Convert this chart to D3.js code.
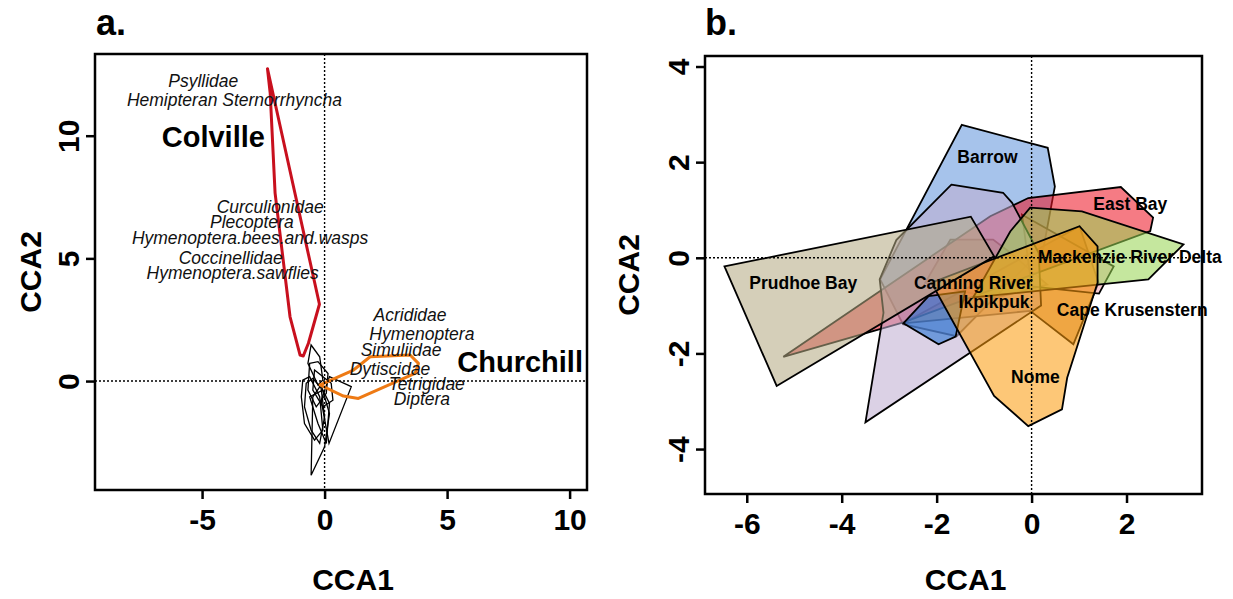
<!DOCTYPE html>
<html>
<head>
<meta charset="UTF-8">
<title>CCA hulls</title>
<script src="https://d3js.org/d3.v7.min.js"></script>
<style>
    body {margin:0; background:#fff;}
    text {font-family:"Liberation Sans", Arial, sans-serif; fill:#000;}
    .tick line {stroke:#000; stroke-width:2.5px;}
    .domain {display:none;}
    .tick text {font-size:30px; font-weight:bold;}
    .frame {fill:none; stroke:#000; stroke-width:2.5px;}
    .zero {stroke:#000; stroke-width:1.4px; stroke-dasharray:2,2;}
    .axtitle {font-size:30px; font-weight:bold;}
    .sp {font-size:17.5px; font-style:italic; fill:#111;}
    .site {font-size:29px; font-weight:bold;}
    .blab {font-size:17.5px; font-weight:bold;}
    .hull {stroke:#000; stroke-width:1.8px; fill-opacity:0.56;}
</style>
</head>
<body>
<div id="chart"></div>
<script>
// ---- panel a : hulls (CCA1, CCA2)
var colvilleHull = [[-2.33,12.73],[-0.21,3.13],[-0.66,1.54],[-0.87,1.02],[-1.0,1.06],[-1.41,2.62],[-2.02,7.66],[-2.22,11.74]];
var churchillHull = [[-0.18,-0.16],[1.18,0.45],[1.86,0.99],[3.49,1.06],[3.83,0.72],[3.69,0.31],[1.38,-0.71],[0.77,-0.61]];
var otherHull1 = [[-0.55,1.47],[-0.2,0.99],[-0.07,0.04],[-0.27,-0.16],[-0.68,0.72]];
var otherHull2 = [[-0.55,-3.84],[0,-2.68],[0.2,-1.32],[-0.14,-0.16],[-0.48,-0.64]];
var otherHull3 = [[1.09,-0.23],[0.2,0.18],[-0.14,-0.78],[0.18,-2.54]];
var otherHull4 = [[-0.89,0.04],[-0.61,0.18],[-0.2,-0.64],[-0.07,-2.0],[-0.41,-2.41],[-0.82,-1.73],[-0.95,-0.64]];
var otherHull5 = [[-0.61,0.72],[-0.27,0.79],[0.14,0.31],[0.07,-0.5],[-0.34,-1.05],[-0.68,-0.37]];
var otherHull6 = [[-0.75,-0.09],[-0.48,0.11],[-0.14,-0.3],[0,-1.46],[-0.2,-2.54],[-0.55,-2.0],[-0.82,-1.05]];
var otherHull7 = [[-0.61,-0.64],[-0.07,-0.37],[0.2,-0.91],[0.07,-2.54],[-0.27,-1.73]];
var otherHull8 = [[-0.41,0.45],[0.27,-0.09],[0.34,-0.78],[-0.07,-1.05],[-0.48,-0.37]];
var otherHulls = [otherHull1, otherHull2, otherHull3, otherHull4, otherHull5, otherHull6, otherHull7, otherHull8];

// ---- panel a : taxa and site labels
var taxa  = ["Psyllidae","Hemipteran Sternorrhyncha","Curculionidae","Plecoptera","Hymenoptera.bees.and.wasps","Coccinellidae","Hymenoptera.sawflies","Acrididae","Hymenoptera","Simuliidae","Dytiscidae","Tetrigidae","Diptera"];
var taxaX = [-4.95,-3.68,-2.22,-2.97,-3.04,-3.83,-3.75,3.49,3.97,3.12,2.67,4.17,3.97];
var taxaY = [12.26,11.47,7.11,6.5,5.85,5.01,4.42,2.69,1.91,1.27,0.52,-0.09,-0.73];
var sitesA  = ["Colville","Churchill"];
var sitesAX = [-4.54, 7.98];
var sitesAY = [9.95, 0.79];

var ticksAX = [-5, 0, 5, 10];
var ticksAY = [0, 5, 10];

// ---- panel b : hulls per site (drawn in this order)
var barrowHull    = [[-1.47,2.78],[0.34,2.30],[0.49,1.49],[0.25,0.2],[-1.58,-1.64],[-2.71,-1.39],[-3.19,-0.45]];
var canningHull   = [[-1.71,0.38],[-0.81,0.38],[-0.44,0.1],[0.33,-0.56],[-0.8,-0.85],[-2.24,-0.52]];
var capeHull      = [[-2.7,-1.37],[1.01,0.66],[1.41,-0.52],[0.88,-1.81],[-0.03,-1.11]];
var pinkHull      = [[-0.2,0.9],[1.73,-0.18],[1.42,-0.75],[0.0,-0.6]];
var eastBayHull   = [[-5.23,-2.07],[-0.87,0.87],[-0.07,1.25],[1.88,1.48],[2.56,0.84],[2.5,0.56],[-2.7,-1.35]];
var ikpikpukHull  = [[-1.69,1.53],[-0.6,1.36],[-0.41,1.15],[0.15,0.1],[0.2,-1.0],[-3.5,-3.44],[-3.12,-1.15],[-3.2,-0.45],[-2.85,0.37]];
var blueHull      = [[-2.17,-0.8],[-1.4,-0.7],[-1.6,-1.65],[-1.96,-1.81],[-2.7,-1.37]];
var mackenzieHull = [[-0.03,1.05],[1.06,0.97],[3.2,0.28],[2.46,-0.45],[1.5,-0.55],[-1.23,-0.83],[-0.45,0.55]];
var nomeHull      = [[1.01,0.66],[1.39,0.24],[1.39,-0.52],[0.75,-2.51],[0.64,-3.17],[-0.07,-3.52],[-0.79,-2.89],[-2.11,-0.52]];
var prudhoeHull   = [[-6.47,-0.18],[-1.28,0.86],[-0.79,0.03],[-5.37,-2.68]];
var hullsB  = [barrowHull, canningHull, capeHull, pinkHull, eastBayHull, ikpikpukHull, blueHull, mackenzieHull, nomeHull, prudhoeHull];
var colorsB = ["#6094dc","#4f9a3f","#c8782a","#f4a6b0","#ee1424","#bfadd1","#1f6fd0","#97d552","#fb9b0d","#b4a983"];

var sitesB  = ["Barrow","East Bay","Mackenzie River Delta","Prudhoe Bay","Canning River","Ikpikpuk","Cape Krusenstern","Nome"];
var sitesBX = [-0.93, 2.08, 2.07, -4.81, -1.23, -0.79, 2.12, 0.08];
var sitesBY = [2.11, 1.13, 0.02, -0.52, -0.52, -0.91, -1.08, -2.48];

var ticksBX = [-6, -4, -2, 0, 2];
var ticksBY = [-4, -2, 0, 2, 4];

var svg = d3.select("#chart").append("svg")
    .attr("width", 1233)
    .attr("height", 599);

var xa = d3.scaleLinear().domain([-9.37, 10.71]).range([95, 587]);
var ya = d3.scaleLinear().domain([-4.44, 13.33]).range([490, 54]);
var xb = d3.scaleLinear().domain([-6.88, 3.59]).range([705, 1202]);
var yb = d3.scaleLinear().domain([-4.94, 4.22]).range([494, 56]);

function axes(x, y, xt, yt, tag, tagX, titleGap) {
    var x0 = x.range()[0], x1 = x.range()[1], y0 = y.range()[1], y1 = y.range()[0];
    var g = svg.append("g");

    g.append("g")
        .attr("transform", "translate(0," + y1 + ")")
        .call(d3.axisBottom(x).tickValues(xt).tickSize(9).tickPadding(10).tickFormat(function(d) {return d;}));

    g.append("g")
        .attr("transform", "translate(" + x0 + ",0)")
        .call(d3.axisLeft(y).tickValues(yt).tickSize(9).tickFormat(function(d) {return d;}))
        .selectAll("text")
        .attr("transform", "rotate(-90)")
        .attr("x", 0).attr("y", -26.5)
        .attr("dy", "0.36em")
        .attr("text-anchor", "middle");

    g.append("rect").attr("class", "frame")
        .attr("x", x0).attr("y", y0)
        .attr("width", x1 - x0).attr("height", y1 - y0);

    g.append("text").attr("class", "axtitle")
        .attr("x", (x0 + x1) / 2 + 12).attr("y", 590)
        .attr("text-anchor", "middle").text("CCA1");

    g.append("text").attr("class", "axtitle")
        .attr("transform", "translate(" + (x0 - titleGap) + "," + ((y0 + y1) / 2) + ") rotate(-90)")
        .attr("dy", "0.36em")
        .attr("text-anchor", "middle").text("CCA2");

    g.append("text")
        .attr("x", tagX).attr("y", 35)
        .style("font-size", "36px").style("font-weight", "bold")
        .text(tag);
    return g;
}

function zeroLines(x, y) {
    svg.append("line").attr("class", "zero")
        .attr("x1", x(0)).attr("x2", x(0))
        .attr("y1", y.range()[1]).attr("y2", y.range()[0]);
    svg.append("line").attr("class", "zero")
        .attr("x1", x.range()[0]).attr("x2", x.range()[1])
        .attr("y1", y(0)).attr("y2", y(0));
}

// ---------- panel a
var lineA = d3.line().x(function(d) {return xa(d[0]);}).y(function(d) {return ya(d[1]);}).curve(d3.curveLinearClosed);

svg.append("g").selectAll("path")
    .data(otherHulls)
    .enter().append("path")
    .attr("d", lineA)
    .attr("fill", "none")
    .attr("stroke", "#000")
    .attr("stroke-width", 1.3);

svg.append("path").datum(colvilleHull)
    .attr("d", lineA).attr("fill", "none")
    .attr("stroke", "#c8101e").attr("stroke-width", 3).attr("stroke-linejoin", "round");

svg.append("path").datum(churchillHull)
    .attr("d", lineA).attr("fill", "none")
    .attr("stroke", "#ee7a14").attr("stroke-width", 3).attr("stroke-linejoin", "round");

svg.append("g").selectAll("text")
    .data(taxa)
    .enter().append("text")
    .attr("class", "sp")
    .attr("x", function(d, i) {return xa(taxaX[i]);})
    .attr("y", function(d, i) {return ya(taxaY[i]);})
    .attr("dy", "0.36em")
    .attr("text-anchor", "middle")
    .text(function(d) {return d;});

svg.append("g").selectAll("text")
    .data(sitesA)
    .enter().append("text")
    .attr("class", "site")
    .attr("x", function(d, i) {return xa(sitesAX[i]);})
    .attr("y", function(d, i) {return ya(sitesAY[i]);})
    .attr("dy", "0.36em")
    .attr("text-anchor", "middle")
    .text(function(d) {return d;});

zeroLines(xa, ya);
axes(xa, ya, ticksAX, ticksAY, "a.", 96, 65);

// ---------- panel b
var lineB = d3.line().x(function(d) {return xb(d[0]);}).y(function(d) {return yb(d[1]);}).curve(d3.curveLinearClosed);

svg.append("g").selectAll("path")
    .data(hullsB)
    .enter().append("path")
    .attr("class", "hull")
    .attr("d", lineB)
    .attr("fill", function(d, i) {return colorsB[i];});

zeroLines(xb, yb);

svg.append("g").selectAll("text")
    .data(sitesB)
    .enter().append("text")
    .attr("class", "blab")
    .attr("x", function(d, i) {return xb(sitesBX[i]);})
    .attr("y", function(d, i) {return yb(sitesBY[i]);})
    .attr("dy", "0.36em")
    .attr("text-anchor", "middle")
    .text(function(d) {return d;});

axes(xb, yb, ticksBX, ticksBY, "b.", 705, 77);
</script>
</body>
</html>
